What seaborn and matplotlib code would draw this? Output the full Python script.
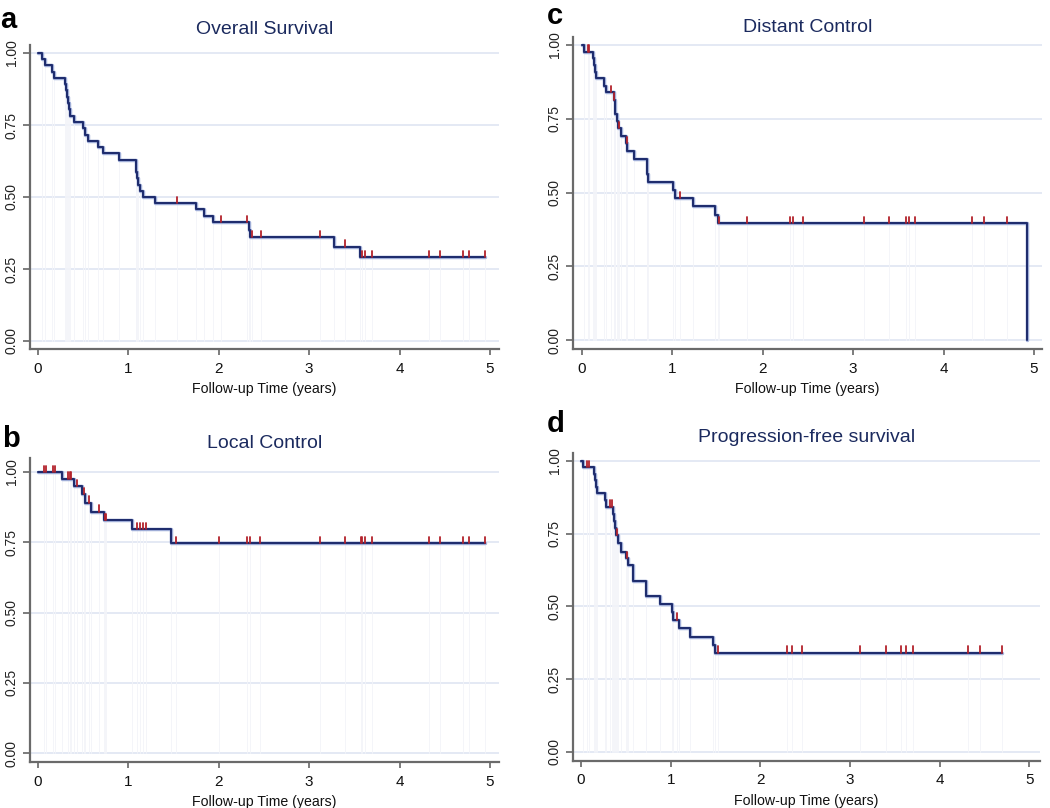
import numpy as np
import pandas as pd
import matplotlib.pyplot as plt
import matplotlib.patheffects as pe
import seaborn as sns

sns.set_theme(style="ticks")
plt.rcParams['font.family'] = ['Liberation Sans', 'DejaVu Sans']

# Kaplan-Meier step points (time in years, survival after the drop)
os_times = [0.05, 0.08, 0.16, 0.18, 0.30, 0.31, 0.32, 0.33, 0.34, 0.36, 0.40, 0.50, 0.52, 0.555,
            0.665, 0.725, 0.90, 1.08, 1.09, 1.10, 1.11, 1.13, 1.16, 1.29, 1.75, 1.84, 1.94,
            2.33, 2.35, 3.27, 3.56]
os_surv = [0.978, 0.957, 0.935, 0.913, 0.891, 0.870, 0.848, 0.826, 0.804, 0.783, 0.761, 0.739,
           0.717, 0.696, 0.674, 0.652, 0.630, 0.609, 0.587, 0.565, 0.543, 0.522, 0.500, 0.478,
           0.457, 0.435, 0.412, 0.386, 0.361, 0.327, 0.292]
os_censor = [1.54, 2.03, 2.31, 2.37, 2.47, 3.12, 3.40, 3.58, 3.62, 3.70, 4.33, 4.45, 4.70, 4.77, 4.94]
os_end = 4.94

lc_times = [0.27, 0.395, 0.49, 0.52, 0.585, 0.73, 1.04, 1.47]
lc_surv = [0.977, 0.951, 0.921, 0.891, 0.859, 0.829, 0.796, 0.748]
lc_censor = [0.07, 0.085, 0.17, 0.185, 0.33, 0.35, 0.37, 0.43, 0.505, 0.565, 0.675, 0.74, 0.75,
             1.10, 1.13, 1.16, 1.19, 1.53, 2.00, 2.31, 2.35, 2.46, 3.12, 3.40, 3.57, 3.58,
             3.62, 3.70, 4.33, 4.45, 4.70, 4.77, 4.94]
lc_end = 4.94

dc_times = [0.02, 0.125, 0.135, 0.145, 0.155, 0.245, 0.265, 0.350, 0.360, 0.370, 0.385, 0.395,
            0.43, 0.49, 0.50, 0.57, 0.715, 0.72, 0.725, 1.01, 1.03, 1.225, 1.47, 1.50, 4.92]
dc_surv = [0.977, 0.955, 0.932, 0.909, 0.887, 0.862, 0.840, 0.815, 0.791, 0.767, 0.742, 0.718,
           0.693, 0.667, 0.642, 0.615, 0.588, 0.562, 0.535, 0.508, 0.481, 0.453, 0.424, 0.396, 0.0]
dc_censor = [0.065, 0.08, 0.32, 0.355, 0.41, 0.495, 1.08, 1.52, 1.82, 2.30, 2.34, 2.45, 3.12,
             3.40, 3.58, 3.62, 3.69, 4.32, 4.45, 4.70]
dc_end = 4.92

pfs_times = [0.02, 0.145, 0.155, 0.165, 0.175, 0.268, 0.275, 0.36, 0.37, 0.38, 0.395, 0.415,
             0.446, 0.50, 0.528, 0.58, 0.72, 0.73, 0.88, 1.01, 1.03, 1.09, 1.22, 1.47, 1.49]
pfs_surv = [0.978, 0.955, 0.933, 0.911, 0.889, 0.866, 0.843, 0.819, 0.794, 0.770, 0.745, 0.719,
            0.688, 0.665, 0.643, 0.588, 0.562, 0.536, 0.509, 0.482, 0.454, 0.427, 0.396, 0.368,
            0.341]
pfs_censor = [0.07, 0.085, 0.325, 0.35, 0.405, 0.51, 1.07, 1.53, 2.30, 2.35, 2.46, 3.11, 3.40,
              3.57, 3.62, 3.70, 4.32, 4.45, 4.70]
pfs_end = 4.70

titles = ["Overall Survival", "Local Control", "Distant Control", "Progression-free survival"]
letters = ["a", "b", "c", "d"]
y_ticks = [0, 0.25, 0.5, 0.75, 1.0]
y_ticklabels = ["0.00", "0.25", "0.50", "0.75", "1.00"]
x_ticks = [0, 1, 2, 3, 4, 5]

W, H = 1050, 808
fig = plt.figure(figsize=(10.5, 8.08), dpi=100)

NAVY = "#1f2d6e"
RED = "#b3222b"


def px_rect(x0, y0, x1, y1):
    return [x0 / W, 1 - y1 / H, (x1 - x0) / W, (y1 - y0) / H]


def surv_at(t, times, surv):
    i = np.searchsorted(times, t, side="right")
    return 1.0 if i == 0 else surv[i - 1]


def draw_km(ax, times, surv, censor, end):
    xs = [0.0] + list(times)
    ys = [1.0] + list(surv)
    if end > xs[-1]:
        xs.append(end)
        ys.append(ys[-1])
    df = pd.DataFrame({"time": xs, "surv": ys})

    # very faint drop lines at every event / censoring time
    for t in list(times) + list(censor):
        ax.plot([t, t], [0, surv_at(t, times, surv)], color="#f3f4f9", lw=0.6, zorder=1)

    sns.lineplot(data=df, x="time", y="surv", ax=ax, drawstyle="steps-post",
                 estimator=None, sort=False, color=NAVY, lw=1.5, zorder=3,
                 path_effects=[pe.Stroke(linewidth=2.5, foreground="#a5b3dc"), pe.Normal()])
    for t in censor:
        s = surv_at(t, times, surv)
        ax.plot([t, t], [s, s + 0.022], color=RED, lw=1.3, zorder=4)


# layout: axes boxes in pixels, ylim, xlim, text positions
panels = [
    dict(t=os_times, s=os_surv, c=os_censor, e=os_end, box=(30, 45, 499, 349),
         ylim=(-0.028, 1.028), xlim=(-0.088, 5.10), title_y=30, letter_xy=(8, 28)),
    dict(t=lc_times, s=lc_surv, c=lc_censor, e=lc_end, box=(30, 458, 499, 762),
         ylim=(-0.032, 1.05), xlim=(-0.088, 5.10), title_y=443, letter_xy=(11, 447)),
    dict(t=dc_times, s=dc_surv, c=dc_censor, e=dc_end, box=(573, 37, 1042, 349),
         ylim=(-0.03, 1.027), xlim=(-0.10, 5.09), title_y=28, letter_xy=(555, 24)),
    dict(t=pfs_times, s=pfs_surv, c=pfs_censor, e=pfs_end, box=(573, 453, 1040, 761),
         ylim=(-0.031, 1.027), xlim=(-0.089, 5.12), title_y=437, letter_xy=(556, 432)),
]

for p, title, letter in zip(panels, titles, letters):
    x0, y0, x1, y1 = p["box"]
    ax = fig.add_axes(px_rect(x0, y0, x1, y1))
    ax.set_axisbelow(True)
    for yv in y_ticks:
        ax.axhline(yv, color="#e2e7f3", lw=1.3, zorder=0)
    draw_km(ax, p["t"], p["s"], p["c"], p["e"])
    ax.set_xlim(*p["xlim"])
    ax.set_ylim(*p["ylim"])
    ax.set_yticks(y_ticks)
    ax.set_yticklabels(y_ticklabels)
    ax.set_xticks(x_ticks)
    ax.set_xticklabels([str(v) for v in x_ticks])
    ax.set_xlabel("Follow-up Time (years)", fontsize=10.2, color="#111111", labelpad=5)
    ax.set_ylabel("")
    ax.tick_params(axis="y", length=5, width=1.2, color="#666666", labelsize=10,
                   labelcolor="#222222", labelrotation=90, pad=3)
    ax.tick_params(axis="x", length=4, width=1.2, color="#666666", labelsize=11,
                   labelcolor="#111111", pad=5)
    for lab in ax.get_yticklabels():
        lab.set_va("center")
    sns.despine(ax=ax)
    for side in ("left", "bottom"):
        ax.spines[side].set_color("#6a6a6a")
        ax.spines[side].set_linewidth(1.6)
    fig.text((x0 + x1) / 2 / W, 1 - p["title_y"] / H, title, ha="center", va="center",
             fontsize=14, color="#1b2a5e")
    lx, ly = p["letter_xy"]
    fig.text(lx / W, 1 - ly / H, letter, ha="center", va="baseline", fontsize=21,
             fontweight="bold", color="black")

fig.savefig("out.png", dpi=100)
